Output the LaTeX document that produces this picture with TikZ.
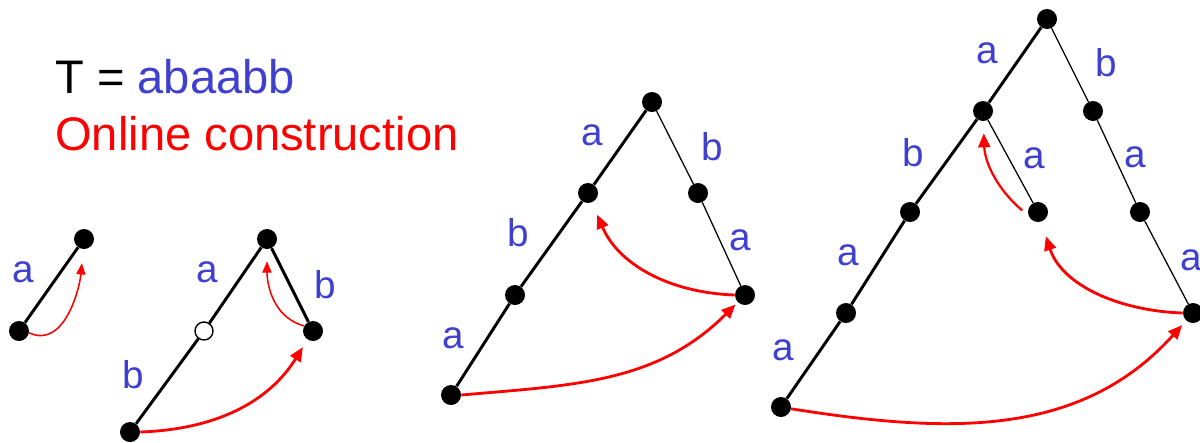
\documentclass[tikz,border=0pt]{standalone}
\usepackage{fontspec}
\setmainfont{Liberation Sans}
\usepackage{xcolor}
\usepackage{tikz}
\usetikzlibrary{arrows.meta}

\definecolor{letterblue}{RGB}{64,64,208}

\begin{document}
\begin{tikzpicture}[
  x=0.025cm, y=0.025cm,
  every node/.style={inner sep=0pt},
  vertex/.style={circle, fill=black, minimum size=0.5cm},
  hollow/.style={circle, draw=black, fill=white, line width=1pt, minimum size=0.45cm},
  letter/.style={font=\fontsize{27.5}{32}\selectfont, text=letterblue},
  heavy/.style={line width=2.1pt},
  light/.style={line width=0.9pt},
  link/.style={-{Triangle[length=10pt,width=8.5pt]}, red, line width=2pt},
  minilink/.style={-{Triangle[length=8pt,width=6.5pt]}, red, line width=1.1pt}
]
\useasboundingbox (0,0) rectangle (1200,-442);

% Title
\node[anchor=base west, font=\fontsize{33.5}{40}\selectfont] (title) at (55,-93)
  {T = \textcolor{letterblue}{abaabb}};
\node[anchor=base west, font=\fontsize{33.5}{40}\selectfont, text=red] (subtitle) at (55,-150)
  {Online construction};

% Tree 1: a
\node[vertex] (t1top) at (84,-239) {};
\node[vertex] (t1bot) at (19,-331) {};
\draw[heavy] (t1bot) -- (t1top);
\node[letter] (t1a) at (23,-272) {a};
\draw[minilink, shorten >=0.35cm] (t1bot.-10) to[out=-25,in=-95] (t1top.-95);

% Tree 2: ab
\node[vertex] (t2top) at (267,-239) {};
\node[hollow] (t2mid) at (204,-331) {};
\node[vertex] (t2bot) at (130,-432) {};
\node[vertex] (t2rgt) at (313,-331) {};
\draw[heavy] (t2bot) -- (t2mid) -- (t2top) -- (t2rgt);
\node[letter] (t2a) at (207,-272) {a};
\node[letter] (t2b) at (133,-375) {b};
\node[letter] (t2c) at (325,-285) {b};
\draw[minilink, shorten >=0.3cm] (t2rgt.150) to[out=165,in=-90] (t2top.-90);
\draw[link, shorten >=0.22cm] (t2bot.east) to[out=2,in=-122] (t2rgt.-122);

% Tree 3: abaa
\node[vertex] (t3top) at (652,-102) {};
\node[vertex] (t3l1) at (588,-193) {};
\node[vertex] (t3l2) at (515,-295) {};
\node[vertex] (t3bot) at (451,-395) {};
\node[vertex] (t3r1) at (698,-193) {};
\node[vertex] (t3r2) at (745,-295) {};
\draw[heavy] (t3bot) -- (t3l2) -- (t3l1) -- (t3top);
\draw[light] (t3top) -- (t3r1) -- (t3r2);
\node[letter] (t3a) at (592,-135) {a};
\node[letter] (t3b) at (518,-233) {b};
\node[letter] (t3c) at (453,-338) {a};
\node[letter] (t3d) at (712,-147) {b};
\node[letter] (t3e) at (740,-240) {a};
\draw[link, shorten >=0.33cm] (t3r2.west) to[out=178,in=-67] (t3l1.-67);
\draw[link, shorten >=0.08cm] (t3bot.east) to[out=5,in=-135] (t3r2.-135);

% Tree 4: abaabb
\node[vertex] (t4top) at (1047,-19) {};
\node[vertex] (t4l1) at (983,-111) {};
\node[vertex] (t4l2) at (910,-212) {};
\node[vertex] (t4l3) at (846,-313) {};
\node[vertex] (t4bot) at (781,-407) {};
\node[vertex] (t4in) at (1038,-212) {};
\node[vertex] (t4r1) at (1093,-111) {};
\node[vertex] (t4r2) at (1140,-212) {};
\node[vertex] (t4r3) at (1193,-313) {};
\draw[heavy] (t4bot) -- (t4l3) -- (t4l2) -- (t4l1) -- (t4top);
\draw[light] (t4l1) -- (t4in);
\draw[light] (t4top) -- (t4r1) -- (t4r2) -- (t4r3);
\node[letter] (t4a) at (987,-53) {a};
\node[letter] (t4b) at (913,-153) {b};
\node[letter] (t4c) at (848,-255) {a};
\node[letter] (t4d) at (783,-350) {a};
\node[letter] (t4e) at (1034,-158) {a};
\node[letter] (t4f) at (1106,-63) {b};
\node[letter] (t4g) at (1135,-157) {a};
\node[letter] (t4h) at (1191,-260) {a};
\draw[link, line width=1.6pt, shorten <=0.2cm, shorten >=0.3cm] (t4in.200) to[out=140,in=-88] (t4l1.-88);
\draw[link, shorten >=0.38cm] (t4r3.west) to[out=178,in=-72] (t4in.-72);
\draw[link, shorten >=0.15cm] (t4bot.-10) to[out=-9,in=-132] (t4r3.-132);

\end{tikzpicture}
\end{document}
